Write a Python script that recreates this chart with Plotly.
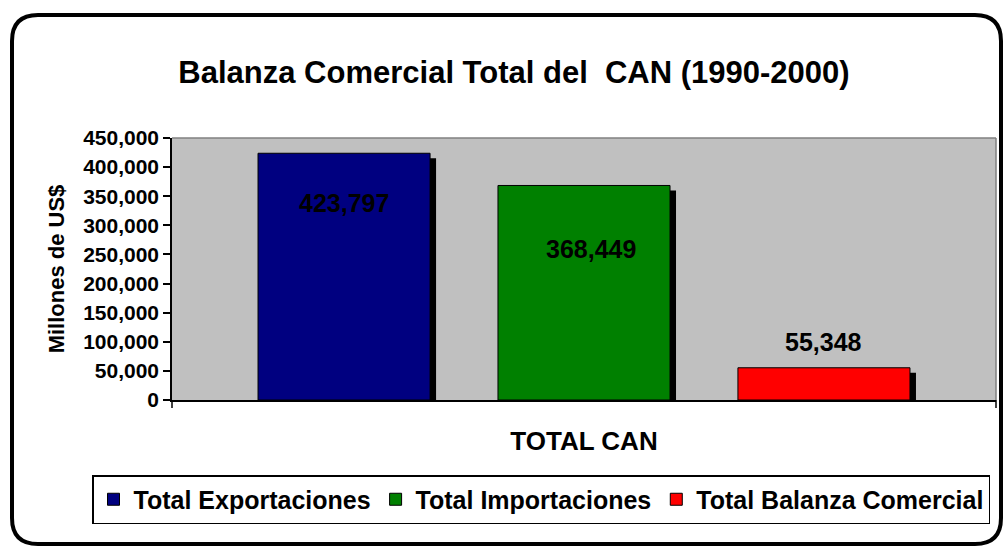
import plotly.graph_objects as go

# ---- data ----
series_names = ["Total Exportaciones", "Total Importaciones", "Total Balanza Comercial"]
series_values = [423797, 368449, 55348]
series_colors = ["#000080", "#008000", "#FF0000"]
label_texts = ["423,797", "368,449", "55,348"]
category_label = "TOTAL CAN"
y_tick_values = [0, 50000, 100000, 150000, 200000, 250000, 300000, 350000, 400000, 450000]
chart_title = "Balanza Comercial Total del\u00a0 CAN (1990-2000)"
y_title = "Millones de US$"

# ---- layout constants (pixels) ----
W, H = 1004, 548
ML, MR, MT, MB = 172, 8, 138, 148
PW = W - ML - MR
PH = H - MT - MB
Y_MAX = 450000
X_RANGE = [-0.717, 2.717]
SHADOW_DX = 6   # px right
SHADOW_DY = 5   # px down
units_per_px_x = (X_RANGE[1] - X_RANGE[0]) / PW
units_per_px_y = Y_MAX / PH

label_yshift = [-50, -64, 26]
label_xshift = [0, 7, 0]

FONT = "Liberation Sans, Arial, sans-serif"

fig = go.Figure()

# shadow bars (base axes, drawn first)
for name, val in zip(series_names, series_values):
    fig.add_trace(go.Bar(
        x=[name], y=[val], marker=dict(color="black", line=dict(width=0)),
        showlegend=False, hoverinfo="skip", xaxis="x", yaxis="y", width=0.717,
    ))

# main bars (overlay axes)
for name, val, col in zip(series_names, series_values, series_colors):
    fig.add_trace(go.Bar(
        x=[name], y=[val], name=name,
        marker=dict(color=col, line=dict(color="black", width=1)),
        xaxis="x2", yaxis="y2", width=0.717,
    ))

annotations = []
for name, val, txt, dy, dx in zip(series_names, series_values, label_texts, label_yshift, label_xshift):
    annotations.append(dict(
        x=name, y=val, xref="x2", yref="y2", text=txt, showarrow=False,
        yshift=dy, xshift=dx, font=dict(family=FONT, size=25, color="black", weight="bold"),
    ))

def px2paper(px, py):
    return (px - ML) / PW, (H - MB - py) / PH

# outer rounded border
bx0, by0, bx1, by1, r = 12, 15, 1001, 544, 26
def P(px, py):
    x, y = px2paper(px, py)
    return f"{x:.5f},{y:.5f}"
path = (f"M {P(bx0 + r, by0)} L {P(bx1 - r, by0)} Q {P(bx1, by0)} {P(bx1, by0 + r)} "
        f"L {P(bx1, by1 - r)} Q {P(bx1, by1)} {P(bx1 - r, by1)} "
        f"L {P(bx0 + r, by1)} Q {P(bx0, by1)} {P(bx0, by1 - r)} "
        f"L {P(bx0, by0 + r)} Q {P(bx0, by0)} {P(bx0 + r, by0)} Z")

shapes = [
    dict(type="path", path=path, xref="paper", yref="paper",
         line=dict(color="black", width=4), layer="above"),
    # plot-area border (top & right grey)
    dict(type="line", xref="x domain", yref="y domain", x0=0, x1=1, y0=1, y1=1,
         line=dict(color="#808080", width=1.5), layer="below"),
    dict(type="line", xref="x domain", yref="y domain", x0=1, x1=1, y0=0, y1=1,
         line=dict(color="#808080", width=1.5), layer="below"),
    # category boundary ticks
    dict(type="line", xref="x domain", yref="y domain", x0=0, x1=0, y0=0, y1=-8 / PH,
         line=dict(color="black", width=1.5)),
    dict(type="line", xref="x domain", yref="y domain", x0=1, x1=1, y0=0, y1=-8 / PH,
         line=dict(color="black", width=1.5)),
]

lx, ly = px2paper(92, 475)

fig.update_layout(
    width=W, height=H,
    margin=dict(l=ML, r=MR, t=MT, b=MB, pad=0),
    paper_bgcolor="white", plot_bgcolor="#C0C0C0",
    barmode="overlay",
    font=dict(family=FONT, color="black"),
    title=dict(text=chart_title, x=514 / W, y=1 - 72 / H, xref="container", yref="container",
               xanchor="center", yanchor="middle",
               font=dict(family=FONT, size=31, color="black", weight="bold")),
    xaxis=dict(range=[X_RANGE[0] - SHADOW_DX * units_per_px_x, X_RANGE[1] - SHADOW_DX * units_per_px_x],
               showticklabels=False, showline=False, ticks="", showgrid=False, zeroline=False,
               categoryorder="array", categoryarray=series_names),
    yaxis=dict(range=[SHADOW_DY * units_per_px_y, Y_MAX + SHADOW_DY * units_per_px_y],
               showticklabels=False, showline=False, ticks="", showgrid=False, zeroline=False),
    xaxis2=dict(overlaying="x", anchor="y2", range=X_RANGE, side="bottom",
                showticklabels=False, ticks="", showgrid=False, zeroline=False,
                showline=True, linecolor="black", linewidth=1.5,
                categoryorder="array", categoryarray=series_names,
                title=dict(text=category_label, standoff=31,
                           font=dict(family=FONT, size=26, color="black", weight="bold"))),
    yaxis2=dict(overlaying="y", anchor="x2", range=[0, Y_MAX], side="left",
                tickvals=y_tick_values, tickformat=",d", showgrid=False, zeroline=False,
                showline=True, linecolor="black", linewidth=1.5,
                ticks="outside", ticklen=7, tickcolor="black", tickwidth=1.5,
                tickfont=dict(family=FONT, size=21, color="black", weight="bold"),
                title=dict(text=y_title, standoff=12,
                           font=dict(family=FONT, size=22, color="black", weight="bold"))),
    legend=dict(orientation="h", xref="paper", yref="paper",
                x=lx, y=ly, xanchor="left", yanchor="top",
                bordercolor="black", borderwidth=1.5, bgcolor="white",
                font=dict(family=FONT, size=25, color="black", weight="bold"),
                itemwidth=30, tracegroupgap=0),
    annotations=annotations,
    shapes=shapes,
    showlegend=True,
)

fig.write_html("out.html", config={"displayModeBar": False},
               post_script="document.body.style.margin='0';document.body.style.overflow='hidden';")
